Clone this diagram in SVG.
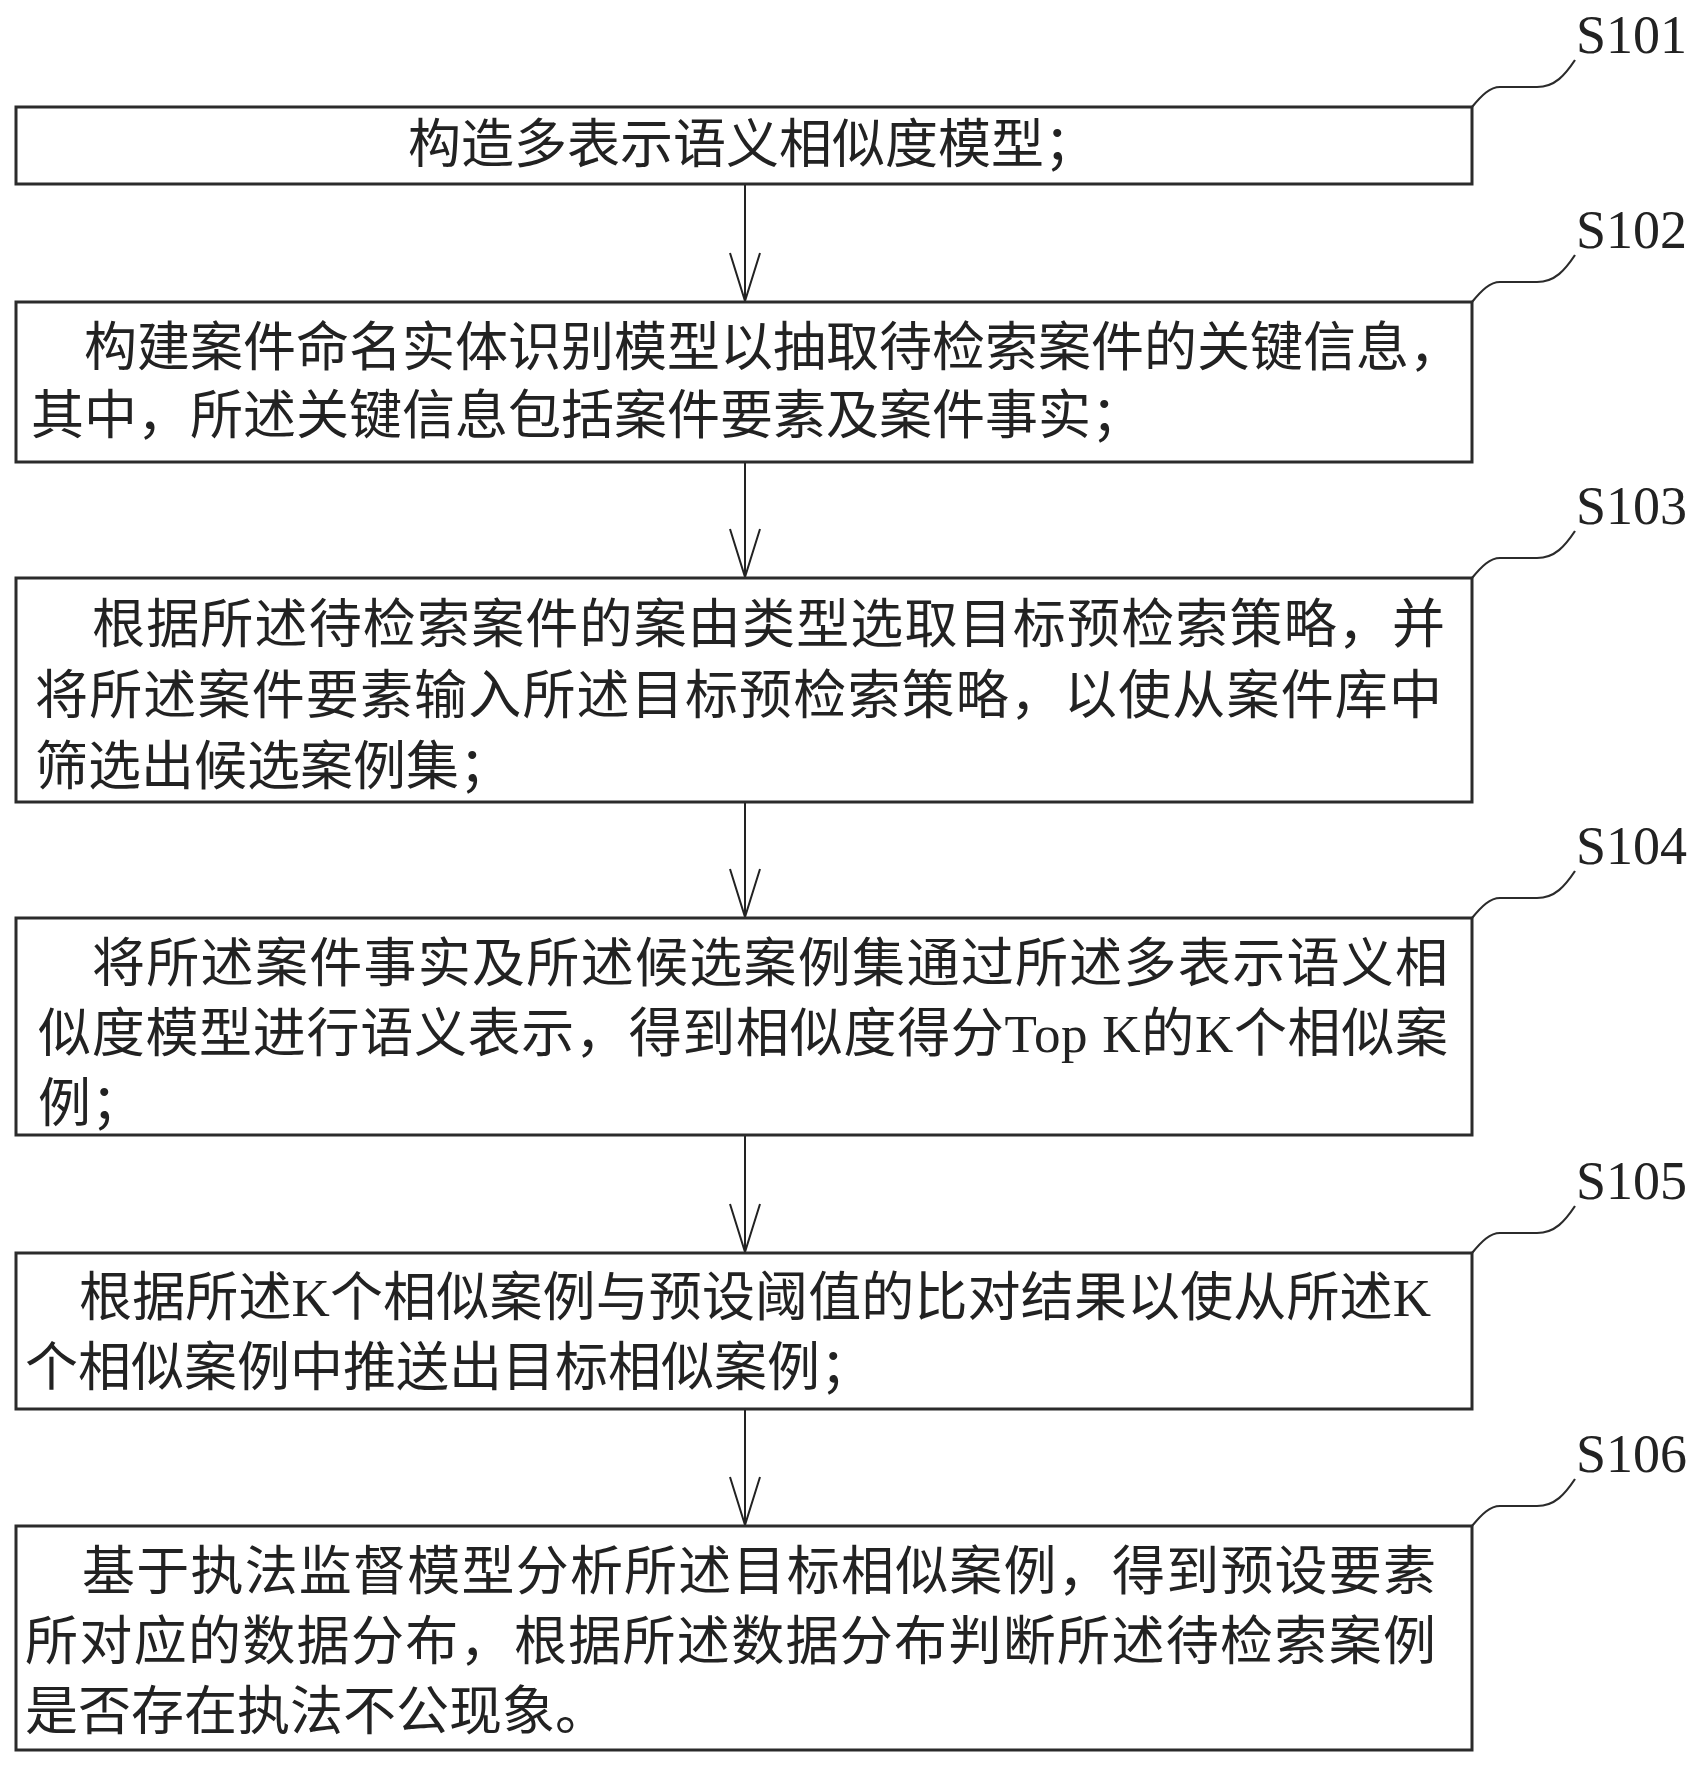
<svg xmlns="http://www.w3.org/2000/svg" width="1704" height="1767" viewBox="0 0 1704 1767">
<style>
.box{fill:#fff;stroke:#2b2b2b;stroke-width:3}
.lead{fill:none;stroke:#2b2b2b;stroke-width:2.2}
.con{fill:none;stroke:#222;stroke-width:2}
.t{font-family:"Liberation Serif","Noto Sans CJK SC",serif;font-size:53px;fill:#222}
.lbl{font-family:"Liberation Serif",serif;font-size:54px;fill:#222}
</style>
<defs>
<marker id="arr" markerWidth="52" markerHeight="34" refX="49" refY="17" orient="auto" markerUnits="userSpaceOnUse">
<path d="M1,2 L49,17 L1,32" fill="none" stroke="#222" stroke-width="2"/>
</marker>
</defs>
<rect width="1704" height="1767" fill="#fff"/>
<g id="connectors">
<line class="con" x1="745" y1="184" x2="745" y2="301" marker-end="url(#arr)"/>
<line class="con" x1="745" y1="462" x2="745" y2="577" marker-end="url(#arr)"/>
<line class="con" x1="745" y1="802" x2="745" y2="917" marker-end="url(#arr)"/>
<line class="con" x1="745" y1="1135" x2="745" y2="1252" marker-end="url(#arr)"/>
<line class="con" x1="745" y1="1409" x2="745" y2="1525" marker-end="url(#arr)"/>
</g>
<g id="S101">
<rect class="box" x="16" y="107" width="1456" height="77"/>
<path class="lead" d="M1472,107 c10,-12 18,-20 28,-20 l37,0 c18,0 28,-12 38,-27"/>
<text class="lbl" x="1576" y="53">S101</text>
<text class="t" x="408" y="163">构造多表示语义相似度模型；</text>
</g>
<g id="S102">
<rect class="box" x="16" y="302" width="1456" height="160"/>
<path class="lead" d="M1472,302 c10,-12 18,-20 28,-20 l37,0 c18,0 28,-12 38,-27"/>
<text class="lbl" x="1576" y="248">S102</text>
<text class="t" x="84" y="366" textLength="1378" lengthAdjust="spacing">构建案件命名实体识别模型以抽取待检索案件的关键信息，</text>
<text class="t" x="31" y="434">其中，所述关键信息包括案件要素及案件事实；</text>
</g>
<g id="S103">
<rect class="box" x="16" y="578" width="1456" height="224"/>
<path class="lead" d="M1472,578 c10,-12 18,-20 28,-20 l37,0 c18,0 28,-12 38,-27"/>
<text class="lbl" x="1576" y="524">S103</text>
<text class="t" x="92" y="643" textLength="1353" lengthAdjust="spacing">根据所述待检索案件的案由类型选取目标预检索策略，并</text>
<text class="t" x="35" y="714" textLength="1407" lengthAdjust="spacing">将所述案件要素输入所述目标预检索策略，以使从案件库中</text>
<text class="t" x="35" y="785">筛选出候选案例集；</text>
</g>
<g id="S104">
<rect class="box" x="16" y="918" width="1456" height="217"/>
<path class="lead" d="M1472,918 c10,-12 18,-20 28,-20 l37,0 c18,0 28,-12 38,-27"/>
<text class="lbl" x="1576" y="864">S104</text>
<text class="t" x="92" y="982" textLength="1356" lengthAdjust="spacing">将所述案件事实及所述候选案例集通过所述多表示语义相</text>
<text class="t" x="38" y="1052" textLength="1410" lengthAdjust="spacing">似度模型进行语义表示，得到相似度得分Top K的K个相似案</text>
<text class="t" x="38" y="1122">例；</text>
</g>
<g id="S105">
<rect class="box" x="16" y="1253" width="1456" height="156"/>
<path class="lead" d="M1472,1253 c10,-12 18,-20 28,-20 l37,0 c18,0 28,-12 38,-27"/>
<text class="lbl" x="1576" y="1199">S105</text>
<text class="t" x="79" y="1316" textLength="1352" lengthAdjust="spacing">根据所述K个相似案例与预设阈值的比对结果以使从所述K</text>
<text class="t" x="25" y="1386">个相似案例中推送出目标相似案例；</text>
</g>
<g id="S106">
<rect class="box" x="16" y="1526" width="1456" height="224"/>
<path class="lead" d="M1472,1526 c10,-12 18,-20 28,-20 l37,0 c18,0 28,-12 38,-27"/>
<text class="lbl" x="1576" y="1472">S106</text>
<text class="t" x="82" y="1590" textLength="1354" lengthAdjust="spacing">基于执法监督模型分析所述目标相似案例，得到预设要素</text>
<text class="t" x="25" y="1660" textLength="1411" lengthAdjust="spacing">所对应的数据分布，根据所述数据分布判断所述待检索案例</text>
<text class="t" x="25" y="1730">是否存在执法不公现象。</text>
</g>
</svg>
